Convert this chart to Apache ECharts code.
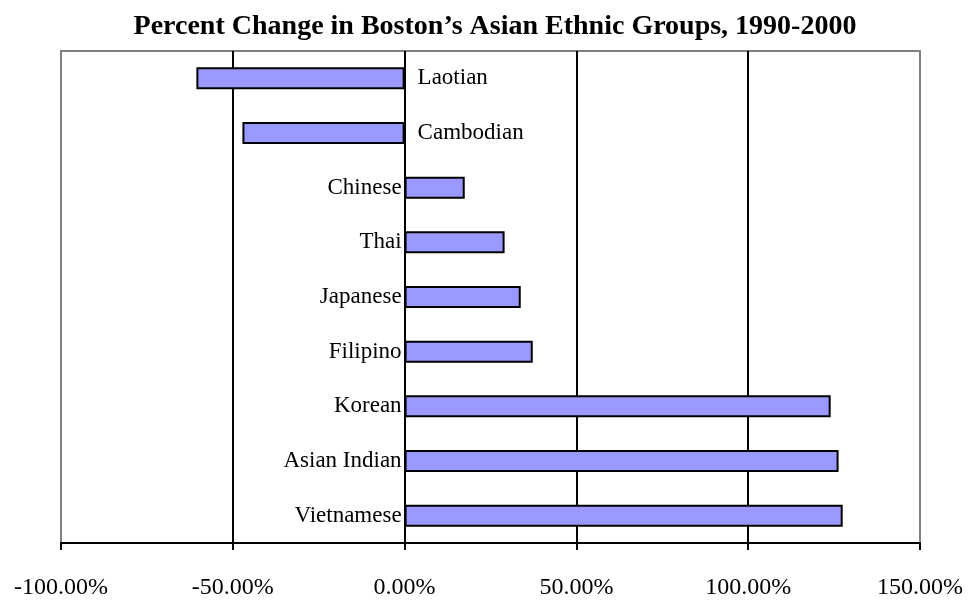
<!DOCTYPE html>
<html>
<head>
<meta charset="utf-8">
<script src="https://cdn.jsdelivr.net/npm/echarts@6/dist/echarts.min.js"></script>
<style>
  html, body { margin: 0; padding: 0; background: #fff; }
  #main { width: 969px; height: 600px; }
</style>
</head>
<body>
<div id="main"></div>
<script>
// categories, top to bottom
var groups = ['Laotian', 'Cambodian', 'Chinese', 'Thai', 'Japanese', 'Filipino', 'Korean', 'Asian Indian', 'Vietnamese'];
// percent change 1990-2000
var pctChange = [-60.6, -47.2, 17.5, 29.1, 33.8, 37.3, 124.0, 126.3, 127.5];
var xTicks = [-100, -50, 0, 50, 100, 150];

var chart = echarts.init(document.getElementById('main'));

var barData = pctChange.map(function (v) {
    // labels sit next to the zero line, on the side opposite the bar
    return {
        value: v,
        label: v < 0 ? { position: 'right', distance: 0, offset: [13, 0] } : { position: 'left', distance: 3 }
    };
});

var option = {
    backgroundColor: '#fff',
    animation: false,
    title: {
        text: 'Percent Change in Boston\u2019s Asian Ethnic Groups, 1990-2000',
        left: 490,
        textAlign: 'center',
        top: 8,
        textStyle: {
            fontFamily: 'Liberation Serif',
            fontSize: 28,
            fontWeight: 'bold',
            color: '#000'
        }
    },
    grid: {
        left: 61,
        right: 49,
        top: 51,
        bottom: 56,
        show: true,
        borderColor: '#808080',
        borderWidth: 2
    },
    xAxis: {
        type: 'value',
        min: xTicks[0],
        max: xTicks[xTicks.length - 1],
        interval: 50,
        axisLine: { show: true, onZero: false, lineStyle: { color: '#000', width: 2 } },
        axisTick: { show: true, length: 7, lineStyle: { color: '#000', width: 2 } },
        splitLine: { show: true, showMinLine: false, showMaxLine: false, lineStyle: { color: '#000', width: 2 } },
        axisLabel: {
            margin: 33,
            fontFamily: 'Liberation Serif',
            fontSize: 24,
            color: '#000',
            formatter: function (v) { return v.toFixed(2) + '%'; }
        }
    },
    yAxis: {
        type: 'category',
        data: groups,
        inverse: true,
        axisLine: { show: false },
        axisTick: { show: false },
        axisLabel: { show: false },
        splitLine: { show: false }
    },
    series: [{
        type: 'bar',
        data: barData,
        barWidth: 22,
        itemStyle: { color: '#9999ff', borderColor: '#000', borderWidth: 2 },
        label: {
            show: true,
            formatter: function (p) { return groups[p.dataIndex]; },
            fontFamily: 'Liberation Serif',
            fontSize: 23,
            color: '#000'
        }
    }]
};

chart.setOption(option);
</script>
</body>
</html>
